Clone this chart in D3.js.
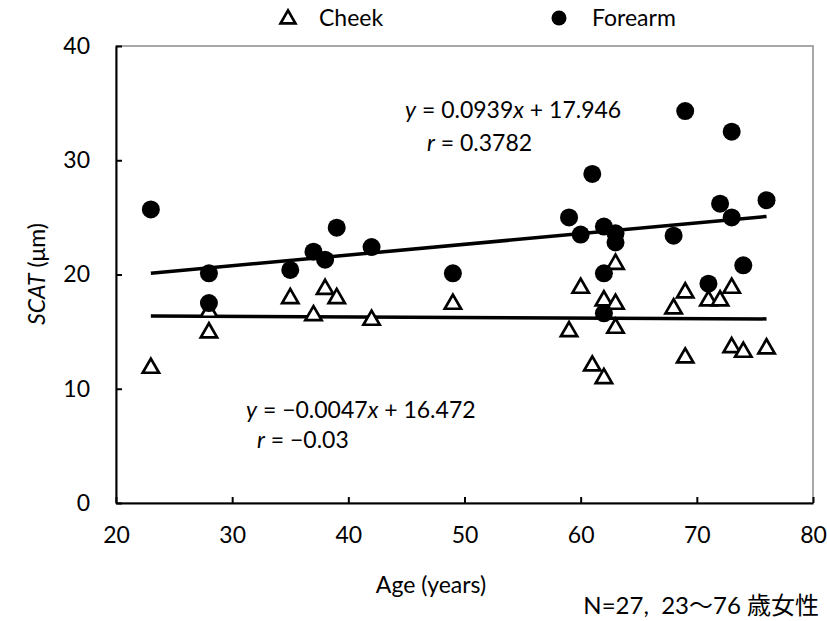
<!DOCTYPE html>
<html>
<head>
<meta charset="utf-8">
<script src="https://cdn.jsdelivr.net/npm/d3@7"></script>
<style>
  body { margin: 0; background: #fff; }
  text { font-family: Lato, "Noto Sans", sans-serif; fill: #000; }
</style>
</head>
<body>
<svg id="chart" width="827" height="621"></svg>
<script>
"use strict";

// Cheek SCAT (triangles)
var cheekAge = [23, 28, 28, 35, 37, 38, 39, 42, 49, 59, 60, 61, 62, 62, 63, 63, 63, 68, 69, 69, 71, 72, 73, 73, 74, 76];
var cheekVal = [11.9, 15.0, 16.8, 18.0, 16.5, 18.8, 18.0, 16.1, 17.5, 15.1, 18.9, 12.1, 11.0, 17.8, 17.5, 15.4, 21.0, 17.1, 18.5, 12.8, 17.8, 17.8, 18.9, 13.7, 13.3, 13.6];

// Forearm SCAT (circles)
var foreAge = [23, 28, 28, 35, 37, 38, 39, 42, 49, 59, 60, 61, 62, 62, 62, 63, 63, 68, 69, 71, 72, 73, 73, 74, 76];
var foreVal = [25.7, 20.1, 17.5, 20.4, 22.0, 21.3, 24.1, 22.4, 20.1, 25.0, 23.5, 28.8, 24.2, 20.1, 16.6, 23.6, 22.8, 23.4, 34.3, 19.2, 26.2, 32.5, 25.0, 20.8, 26.5];

// trendlines (slope, intercept)
var cheekFit = [-0.0047, 16.472];
var foreFit = [0.0939, 17.946];
var fitRange = [23, 76];

var xTicks = [20, 30, 40, 50, 60, 70, 80];
var yTicks = [0, 10, 20, 30, 40];

var FS = "23px";

var svg = d3.select("#chart");
var x = d3.scaleLinear().domain([20, 80]).range([116, 813]);
var y = d3.scaleLinear().domain([0, 40]).range([503, 46]);

// plot area border
svg.append("rect")
	.attr("x", x(20)).attr("y", y(40))
	.attr("width", x(80) - x(20)).attr("height", y(0) - y(40))
	.attr("fill", "none").attr("stroke", "#8c8c8c").attr("stroke-width", 1.5);

// axes
var xAxis = svg.append("g").attr("transform", "translate(0," + y(0) + ")")
	.call(d3.axisBottom(x).tickValues(xTicks).tickSizeInner(-6).tickSizeOuter(0).tickPadding(24));
var yAxis = svg.append("g").attr("transform", "translate(" + x(20) + ",0)")
	.call(d3.axisLeft(y).tickValues(yTicks).tickSizeInner(-6).tickSizeOuter(0).tickPadding(26));

[xAxis, yAxis].forEach(function (g) {
	g.select(".domain").attr("stroke", "#000").attr("stroke-width", 2);
	g.selectAll(".tick line").attr("stroke", "#000").attr("stroke-width", 2);
	g.selectAll(".tick text").style("font-family", "Lato, sans-serif").style("font-size", FS).attr("fill", "#000");
});

// trendlines
function fitLine(fit) {
	return fitRange.map(function (a) { return [a, fit[0] * a + fit[1]]; });
}
var line = d3.line().x(function (d) { return x(d[0]); }).y(function (d) { return y(d[1]); });
[cheekFit, foreFit].forEach(function (fit) {
	svg.append("path").datum(fitLine(fit)).attr("d", line)
		.attr("fill", "none").attr("stroke", "#000").attr("stroke-width", 3.5);
});

// markers
var tri = d3.symbol().type(d3.symbolTriangle).size(115);
svg.append("g").selectAll("path")
	.data(d3.zip(cheekAge, cheekVal)).enter().append("path")
	.attr("d", tri)
	.attr("transform", function (d) { return "translate(" + x(d[0]) + "," + (y(d[1]) + 1) + ")"; })
	.attr("fill", "#fff").attr("stroke", "#000").attr("stroke-width", 2.7);

svg.append("g").selectAll("circle")
	.data(d3.zip(foreAge, foreVal)).enter().append("circle")
	.attr("cx", function (d) { return x(d[0]); })
	.attr("cy", function (d) { return y(d[1]); })
	.attr("r", 9).attr("fill", "#000");

// equation labels
function eqLabel(px, py, slope, icpt) {
	var t = svg.append("text").attr("x", px).attr("y", py).style("font-size", FS);
	t.append("tspan").style("font-style", "italic").text("y");
	t.append("tspan").text(" = " + slope);
	t.append("tspan").style("font-style", "italic").text("x");
	t.append("tspan").text(" + " + icpt);
}
function rLabel(px, py, r) {
	var t = svg.append("text").attr("x", px).attr("y", py).style("font-size", FS);
	t.append("tspan").style("font-style", "italic").text("r");
	t.append("tspan").text(" = " + r);
}
eqLabel(405, 118, "0.0939", "17.946");
rLabel(427, 151, "0.3782");
eqLabel(246, 418, "\u22120.0047", "16.472");
rLabel(257, 448, "\u22120.03");

// legend
svg.append("path").attr("d", d3.symbol().type(d3.symbolTriangle).size(95)).attr("transform", "translate(288,19)")
	.attr("fill", "#fff").attr("stroke", "#000").attr("stroke-width", 2.7);
svg.append("text").attr("x", 319).attr("y", 26).style("font-size", FS).text("Cheek");
svg.append("circle").attr("cx", 559).attr("cy", 18).attr("r", 7.5).attr("fill", "#000");
svg.append("text").attr("x", 592).attr("y", 26).style("font-size", FS).text("Forearm");

// axis titles
svg.append("text").attr("x", 431).attr("y", 593).attr("text-anchor", "middle")
	.style("font-size", FS).text("Age (years)");
var yl = svg.append("text").attr("transform", "translate(45,274) rotate(-90)")
	.attr("text-anchor", "middle").style("font-size", FS);
yl.append("tspan").style("font-style", "italic").text("SCAT");
yl.append("tspan").text(" (\u03bcm)");

svg.append("text").attr("x", 819).attr("y", 614).attr("text-anchor", "end")
	.style("font-size", "24px").style("white-space", "pre")
	.style("font-family", "Lato, 'Noto Sans CJK JP', sans-serif")
	.text("N=27,  23\u301c76 \u6b73\u5973\u6027");
</script>
</body>
</html>
